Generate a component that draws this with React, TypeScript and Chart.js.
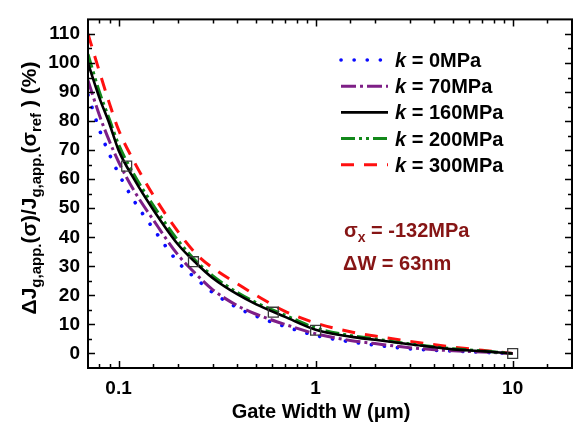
import React, { useEffect, useRef } from 'react';
import { Chart, registerables } from 'chart.js';
Chart.register(...registerables);

// ---- data ----
const widths = [0.07, 0.08, 0.09, 0.1, 0.12, 0.15, 0.2, 0.25, 0.3, 0.4, 0.5, 0.7, 1, 1.5, 2, 3, 5, 7, 10];
const k0 = [89, 77, 68.5, 62, 52.5, 43, 31.5, 25.5, 21, 15.8, 12.8, 9.3, 6.2, 4.0, 2.9, 1.6, 0.8, 0.4, 0];
const k70 = [94, 82, 73, 66, 56, 46, 34, 27, 22, 16.5, 13.5, 10, 6.8, 4.5, 3.4, 2.0, 0.9, 0.5, 0];
const k160 = [100, 88, 79, 70, 60, 49.5, 37.6, 30.8, 26, 20.4, 16.9, 12.6, 8.2, 5.8, 4.7, 3.2, 1.4, 0.8, 0];
const k200 = [103, 90, 80.5, 72, 61.5, 51, 39, 31.5, 26.8, 21, 17.5, 13.2, 8.8, 6.2, 5, 3.3, 1.6, 0.9, 0];
const k300 = [110, 97, 86, 77, 66, 54.5, 42, 34, 29.5, 24, 20, 14.5, 10.5, 7.5, 6, 4.2, 2.2, 1.1, 0];
const markerW = [0.11, 0.24, 0.61, 1.0, 10];
const markerV = [64.5, 31.6, 14.2, 8.0, 0];
const kLabels = ['0MPa', '70MPa', '160MPa', '200MPa', '300MPa'];
const xTickLabels = [0.1, 1, 10];
const yTickLabels = [0, 10, 20, 30, 40, 50, 60, 70, 80, 90, 100, 110];

const FONT = '"Liberation Sans", Arial, Helvetica, sans-serif';

const styles = [
  { color: '#0a0aff', dash: [0.1, 13], width: 3.6, cap: 'round' },
  { color: '#7e1f86', dash: [15, 4, 3, 4], width: 3, cap: 'butt' },
  { color: '#000000', dash: [], width: 2.6, cap: 'butt' },
  { color: '#12881a', dash: [14, 4, 3, 4, 3, 4], width: 3, cap: 'butt' },
  { color: '#ff1010', dash: [13, 10], width: 3, cap: 'butt' },
];
const series = [k0, k70, k160, k200, k300];

function isDecade(v: number) {
  const l = Math.log10(v);
  return Math.abs(l - Math.round(l)) < 1e-6;
}

const decor = {
  id: 'decor',
  afterDatasetsDraw(chart: any) {
    const ctx = chart.ctx as CanvasRenderingContext2D;
    const { left, right, top, bottom } = chart.chartArea;
    const xs = chart.scales.x;
    const ys = chart.scales.y;
    ctx.save();
    ctx.strokeStyle = '#000';
    ctx.lineWidth = 2;
    ctx.setLineDash([]);
    ctx.strokeRect(left, top, right - left, bottom - top);
    ctx.lineWidth = 1.5;
    ctx.beginPath();
    xs.ticks.forEach((t: any) => {
      const v = t.value;
      if (v <= xs.min * 1.0001 || v >= xs.max * 0.9999) return;
      const len = isDecade(v) ? 7 : 4;
      const px = Math.round(xs.getPixelForValue(v)) + 0.5;
      ctx.moveTo(px, bottom); ctx.lineTo(px, bottom - len);
      ctx.moveTo(px, top); ctx.lineTo(px, top + len);
    });
    ys.ticks.forEach((t: any) => {
      const v = t.value;
      if (v <= ys.min || v >= ys.max) return;
      const len = v % 10 === 0 ? 7 : 4;
      const py = Math.round(ys.getPixelForValue(v)) + 0.5;
      ctx.moveTo(left, py); ctx.lineTo(left + len, py);
      ctx.moveTo(right, py); ctx.lineTo(right - len, py);
    });
    ctx.stroke();
    ctx.restore();
  },
  afterDraw(chart: any) {
    const ctx = chart.ctx as CanvasRenderingContext2D;
    ctx.save();
    // legend
    for (let i = 0; i < kLabels.length; i++) {
      const st = styles[i];
      const base = 67 + 26.2 * i;
      const ly = base - 7;
      ctx.strokeStyle = st.color;
      ctx.lineWidth = st.width;
      ctx.lineCap = st.cap as CanvasLineCap;
      ctx.setLineDash(st.dash);
      ctx.beginPath();
      ctx.moveTo(341, ly);
      ctx.lineTo(388, ly);
      ctx.stroke();
      ctx.setLineDash([]);
      ctx.lineCap = 'butt';
      ctx.fillStyle = '#000';
      ctx.textBaseline = 'alphabetic';
      ctx.textAlign = 'left';
      ctx.font = `italic bold 20px ${FONT}`;
      ctx.fillText('k', 395, base);
      const kw = ctx.measureText('k').width;
      ctx.font = `bold 20px ${FONT}`;
      ctx.fillText(' = ' + kLabels[i], 395 + kw, base);
    }
    // annotation
    const red = '#861515';
    ctx.fillStyle = red;
    ctx.font = `bold 20px ${FONT}`;
    let x = 344;
    ctx.fillText('σ', x, 237);
    x += ctx.measureText('σ').width;
    ctx.font = `bold 14px ${FONT}`;
    ctx.fillText('x', x, 242);
    x += ctx.measureText('x').width;
    ctx.font = `bold 20px ${FONT}`;
    ctx.fillText(' = -132MPa', x, 237);
    ctx.fillText('ΔW = 63nm', 343, 270);
    // x title
    ctx.fillStyle = '#000';
    ctx.textAlign = 'center';
    ctx.font = `bold 20px ${FONT}`;
    ctx.fillText('Gate Width W (μm)', 321, 418);
    // y title (rich, rotated)
    const parts = [
      { t: 'ΔJ', s: 21, sub: false },
      { t: 'g,app.', s: 15, sub: true },
      { t: '(σ)/J', s: 21, sub: false },
      { t: 'g,app.', s: 15, sub: true },
      { t: '(σ', s: 21, sub: false },
      { t: 'ref', s: 15, sub: true },
      { t: ' ) (%)', s: 21, sub: false },
    ];
    let total = 0;
    const ws = parts.map(p => {
      ctx.font = `bold ${p.s}px ${FONT}`;
      const w = ctx.measureText(p.t).width;
      total += w;
      return w;
    });
    ctx.translate(30, 188);
    ctx.rotate(-Math.PI / 2);
    ctx.textAlign = 'left';
    let cx = -total / 2;
    parts.forEach((p, i) => {
      ctx.font = `bold ${p.s}px ${FONT}`;
      ctx.fillText(p.t, cx, p.sub ? 11 : 6);
      cx += ws[i];
    });
    ctx.restore();
  },
};

export default function App() {
  const ref = useRef<HTMLCanvasElement | null>(null);
  useEffect(() => {
    document.body.style.margin = '0';
    const canvas = ref.current;
    if (!canvas) return;
    const lineSets = series.map((vals, i) => ({
      label: 'k = ' + kLabels[i],
      data: widths.map((w, j) => ({ x: w, y: vals[j] })),
      borderColor: styles[i].color,
      borderWidth: styles[i].width,
      borderDash: styles[i].dash,
      borderCapStyle: styles[i].cap,
      pointRadius: 0,
      fill: false,
      cubicInterpolationMode: 'monotone',
    }));
    // draw order: index 0 on top
    const ordered = [lineSets[2], lineSets[3], lineSets[1], lineSets[0], lineSets[4]];
    const markers = {
      label: 'markers',
      data: markerW.map((w, j) => ({ x: w, y: markerV[j] })),
      showLine: false,
      pointStyle: 'rect',
      pointRadius: 7,
      pointBorderColor: '#3a3a3a',
      pointBackgroundColor: 'rgba(0,0,0,0)',
      pointBorderWidth: 1.3,
      borderColor: '#3a3a3a',
    };
    const chart = new Chart(canvas, {
      type: 'line',
      data: { datasets: [markers as any, ...(ordered as any)] },
      options: {
        animation: false,
        responsive: false,
        devicePixelRatio: 1,
        layout: { padding: { top: 3, right: 14, left: 0, bottom: 0 } },
        plugins: { legend: { display: false }, tooltip: { enabled: false } },
        scales: {
          x: {
            type: 'logarithmic',
            min: 0.07,
            max: 20,
            grid: { display: false, drawTicks: false },
            border: { display: false },
            ticks: {
              autoSkip: false,
              maxRotation: 0,
              padding: 9,
              color: '#000',
              font: { family: FONT, size: 19, weight: 'bold' },
              callback: (v: any) => {
                const n = Number(v);
                return xTickLabels.some(t => Math.abs(t - n) < 1e-9) ? String(n) : '';
              },
            },
            afterFit: (s: any) => { s.height = 57; },
          },
          y: {
            min: -5,
            max: 115,
            grid: { display: false, drawTicks: false },
            border: { display: false },
            ticks: {
              stepSize: 5,
              autoSkip: false,
              padding: 8,
              color: '#000',
              font: { family: FONT, size: 19, weight: 'bold' },
              callback: (v: any) => {
                const n = Number(v);
                return yTickLabels.includes(n) ? String(n) : '';
              },
            },
            afterFit: (s: any) => { s.width = 88; },
          },
        },
      },
      plugins: [decor],
    } as any);
    return () => chart.destroy();
  }, []);
  return <canvas ref={ref} width={586} height={425} style={{ display: 'block' }} />;
}
